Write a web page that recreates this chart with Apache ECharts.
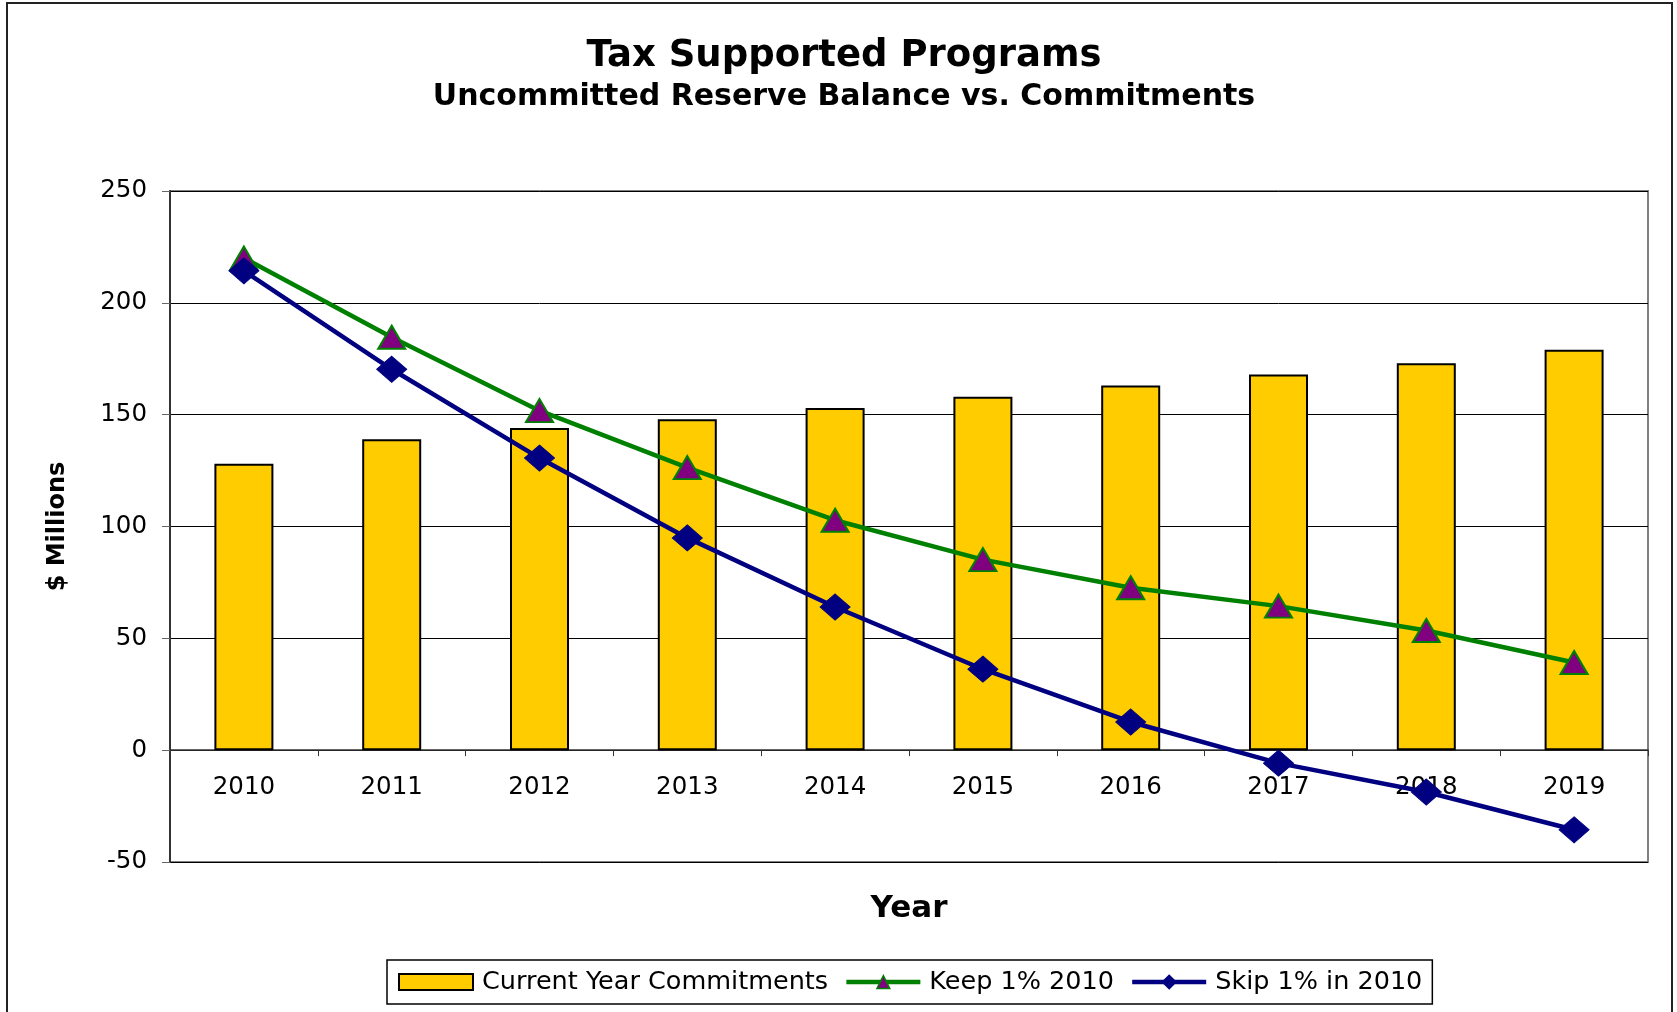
<!DOCTYPE html>
<html>
<head>
<meta charset="utf-8">
<script src="https://cdn.jsdelivr.net/npm/echarts@6/dist/echarts.min.js"></script>
<style>
html,body{margin:0;padding:0;background:#fff;}
#chart{width:1677px;height:1012px;}
</style>
</head>
<body>
<div id="chart"></div>
<script>
// ---- data ----
const years = ['2010','2011','2012','2013','2014','2015','2016','2017','2018','2019'];
const commitments = [128, 139, 144, 148, 153, 158, 163, 168, 173, 179];
const keep1pct2010 = [220, 184.6, 151.8, 126.3, 102.8, 85.2, 72.6, 64.4, 53.5, 39.2];
const skip1pct2010 = [214.3, 170.3, 130.6, 94.9, 64, 36.2, 12.6, -5.8, -18.7, -35.6];
const seriesNames = ['Current Year Commitments', 'Keep 1% 2010', 'Skip 1% in 2010'];
const yMin = -50, yMax = 250, yStep = 50;
const titleText = 'Tax Supported Programs';
const subtitleText = 'Uncommitted Reserve Balance vs. Commitments';
const xName = 'Year';
const yName = '$ Millions';

const FONT = '"DejaVu Sans", Arial, sans-serif';
const chart = echarts.init(document.getElementById('chart'), null, {renderer: 'canvas'});

// plot box (main grid) and a label band whose bottom edge sits on the value 0 line
const plotLeft = 170, plotRight = 29, plotTop = 191, plotBottom = 150;
const zeroPixelY = plotTop + (yMax - 0) / (yMax - yMin) * (1012 - plotTop - plotBottom);

const option = {
  animation: false,
  backgroundColor: '#ffffff',
  textStyle: {fontFamily: FONT, color: '#000'},
  graphic: [
    {type: 'rect', z: 0, silent: true,
     shape: {x: 7, y: 3, width: 1665, height: 1040},
     style: {fill: 'none', stroke: '#222', lineWidth: 2}},
    {type: 'text', x: 844, y: 56, z: 10,
     style: {text: titleText, fontFamily: FONT, fontSize: 37, fontWeight: 'bold', fill: '#000', align: 'center', verticalAlign: 'middle'}},
    {type: 'text', x: 844, y: 97, z: 10,
     style: {text: subtitleText, fontFamily: FONT, fontSize: 30, fontWeight: 'bold', fill: '#000', align: 'center', verticalAlign: 'middle'}}
  ],
  grid: [
    {left: plotLeft, right: plotRight, top: plotTop, bottom: plotBottom, show: true,
     borderColor: '#808080', borderWidth: 2, containLabel: false, outerBoundsMode: 'none'},
    {left: plotLeft, right: plotRight, top: plotTop, bottom: 1012 - zeroPixelY, show: false,
     containLabel: false, outerBoundsMode: 'none'}
  ],
  legend: {
    left: 387, top: 960, orient: 'horizontal',
    borderColor: '#000', borderWidth: 1.5, padding: [9, 10, 9, 11],
    itemWidth: 74, itemHeight: 16, itemGap: 16,
    textStyle: {fontFamily: FONT, fontSize: 25.5, color: '#000', padding: [0, 0, 0, 4]},
    lineStyle: {width: 4.5},
    data: [
      {name: seriesNames[0], icon: 'rect', itemStyle: {borderWidth: 2, borderColor: '#000'}},
      {name: seriesNames[1], itemStyle: {borderWidth: 1.5, borderColor: '#008000'}},
      {name: seriesNames[2]}
    ]
  },
  xAxis: [
    {type: 'category', data: years, gridIndex: 0, show: false},
    {type: 'category', data: years, gridIndex: 1, position: 'bottom',
     axisLine: {onZero: false, lineStyle: {color: '#333', width: 1.5}},
     axisTick: {show: true, length: 6, inside: false, lineStyle: {color: '#333', width: 1}},
     axisLabel: {margin: 25, fontSize: 24.5, color: '#000', fontFamily: FONT},
     splitLine: {show: false},
     name: xName, nameLocation: 'middle', nameGap: 143,
     nameTextStyle: {fontFamily: FONT, fontSize: 31, fontWeight: 'bold', color: '#000'}}
  ],
  yAxis: [
    {type: 'value', gridIndex: 0, min: yMin, max: yMax, interval: yStep,
     axisLine: {show: true, lineStyle: {color: '#333', width: 2}},
     axisTick: {show: true, length: 8, lineStyle: {color: '#666', width: 1}},
     axisLabel: {margin: 23, fontSize: 24.5, color: '#000', fontFamily: FONT},
     splitLine: {show: true, lineStyle: {color: '#000', width: 1}},
     name: yName, nameLocation: 'middle', nameRotate: 90, nameGap: 100,
     nameTextStyle: {fontFamily: FONT, fontSize: 24, fontWeight: 'bold', color: '#000'}},
    {type: 'value', gridIndex: 1, min: 0, max: 1, show: false}
  ],
  series: [
    {type: 'bar', name: seriesNames[0], data: commitments, xAxisIndex: 0, yAxisIndex: 0,
     barWidth: 59, z: 2,
     itemStyle: {color: '#FFCC00', borderColor: '#000', borderWidth: 2}},
    {type: 'line', name: seriesNames[1], data: keep1pct2010, xAxisIndex: 0, yAxisIndex: 0, z: 3,
     symbol: 'triangle', symbolSize: [27, 23],
     lineStyle: {color: '#008000', width: 4.5},
     itemStyle: {color: '#800080', borderColor: '#008000', borderWidth: 2}},
    {type: 'line', name: seriesNames[2], data: skip1pct2010, xAxisIndex: 0, yAxisIndex: 0, z: 4,
     symbol: 'diamond', symbolSize: [30, 26],
     lineStyle: {color: '#000080', width: 4.5},
     itemStyle: {color: '#000080', borderColor: '#000080', borderWidth: 1}}
  ]
};
chart.setOption(option);
</script>
</body>
</html>
